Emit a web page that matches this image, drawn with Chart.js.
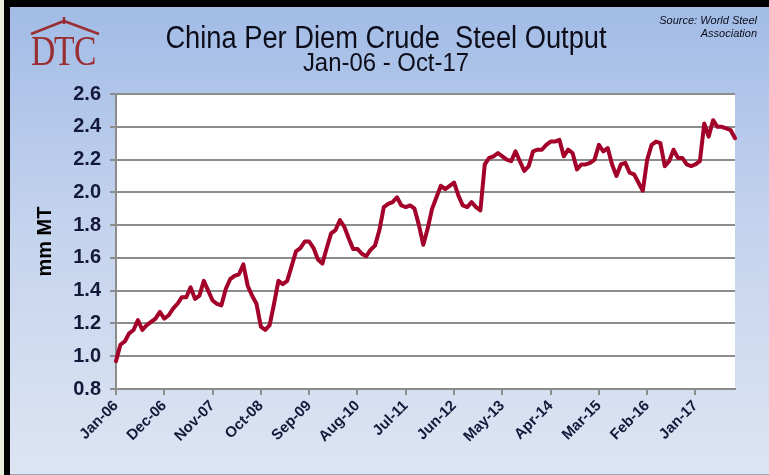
<!DOCTYPE html>
<html>
<head>
<meta charset="utf-8">
<script src="https://cdn.jsdelivr.net/npm/chart.js@4"></script>
<style>
  html, body { margin: 0; padding: 0; }
  body { width: 769px; height: 475px; background: #000; position: relative; overflow: hidden; }
  #strip { position: absolute; left: 0; top: 0; width: 4px; height: 475px; background: #e8eedb; }
  #panel { position: absolute; left: 10px; top: 7px; width: 759px; height: 467px;
           background: linear-gradient(to bottom, #a2bce6 0%, #c3d2ed 45%, #dde5f3 100%); }
  #bottomline { position: absolute; left: 10px; top: 474px; width: 759px; height: 1px; background: #9aa3b0; }
</style>
</head>
<body>
<div id="strip"></div>
<div id="panel"><canvas id="myChart" width="759" height="467"></canvas></div>
<div id="bottomline"></div>
<script>
// monthly figures, Jan-06 .. Oct-17 (mm MT per day)
const output = [
  0.97, 1.07, 1.09, 1.14, 1.16, 1.22, 1.16, 1.19, 1.21, 1.23, 1.27, 1.23,
  1.25, 1.29, 1.32, 1.36, 1.36, 1.42, 1.35, 1.37, 1.46, 1.40, 1.34, 1.32,
  1.31, 1.41, 1.47, 1.49, 1.50, 1.56, 1.43, 1.37, 1.32, 1.18, 1.16, 1.19,
  1.32, 1.46, 1.44, 1.46, 1.55, 1.64, 1.66, 1.70, 1.70, 1.66, 1.59, 1.565,
  1.66, 1.75, 1.77, 1.83, 1.79, 1.72, 1.655, 1.655, 1.625, 1.61, 1.65, 1.675,
  1.77, 1.91, 1.93, 1.94, 1.97, 1.92, 1.91, 1.92, 1.90, 1.80, 1.68, 1.78,
  1.90, 1.97, 2.04, 2.02, 2.04, 2.06, 1.98, 1.92, 1.91, 1.94, 1.91, 1.89,
  2.17, 2.21, 2.22, 2.24, 2.22, 2.20, 2.19, 2.25, 2.19, 2.13, 2.16, 2.25,
  2.26, 2.26, 2.29, 2.31, 2.31, 2.32, 2.22, 2.26, 2.24, 2.14, 2.17, 2.17,
  2.18, 2.20, 2.29, 2.25, 2.27, 2.17, 2.10, 2.17, 2.18, 2.12, 2.11, 2.06,
  2.01, 2.20, 2.29, 2.31, 2.30, 2.16, 2.19, 2.26, 2.21, 2.21, 2.17, 2.16,
  2.17, 2.19, 2.42, 2.34, 2.44, 2.40, 2.40, 2.39, 2.38, 2.33
];
const monthNames = ['Jan','Feb','Mar','Apr','May','Jun','Jul','Aug','Sep','Oct','Nov','Dec'];
const yTicks = [0.8, 1.0, 1.2, 1.4, 1.6, 1.8, 2.0, 2.2, 2.4, 2.6];
const tickLabels = ['Jan-06','Dec-06','Nov-07','Oct-08','Sep-09','Aug-10','Jul-11',
                    'Jun-12','May-13','Apr-14','Mar-15','Feb-16','Jan-17'];
const labelEvery = 11;

// category labels Jan-06 ... Oct-17
const months = [];
for (let i = 0; i < output.length; i++) {
  const yr = 6 + Math.floor(i / 12);
  months.push(monthNames[i % 12] + '-' + String(yr).padStart(2, '0'));
}

const gridGrey = '#8c8c8c';
const labelInk = '#14193a';
const sans = '"Liberation Sans", Arial, sans-serif';

// draws text squeezed horizontally (the original uses a narrow face)
function narrowText(ctx, text, x, y, squeeze) {
  ctx.save();
  ctx.translate(x, y);
  ctx.scale(squeeze, 1);
  ctx.fillText(text, 0, 0);
  ctx.restore();
}

// white plot area, headings, source note and logo
const decor = {
  id: 'decor',
  beforeDraw(chart) {
    const { ctx, chartArea: a } = chart;
    ctx.save();
    ctx.fillStyle = '#ffffff';
    ctx.fillRect(a.left, a.top, a.right - a.left, a.bottom - a.top);
    ctx.restore();
  },
  afterDraw(chart) {
    const ctx = chart.ctx;
    ctx.save();
    ctx.fillStyle = '#0d0d1a';
    ctx.textAlign = 'center';
    ctx.textBaseline = 'alphabetic';
    ctx.font = '31px ' + sans;
    narrowText(ctx, 'China Per Diem Crude  Steel Output', 376, 41, 0.88);
    ctx.font = '26px ' + sans;
    narrowText(ctx, 'Jan-06 - Oct-17', 376, 64, 0.92);

    ctx.textAlign = 'right';
    ctx.font = 'italic 11px ' + sans;
    ctx.fillText('Source: World Steel', 747, 17);
    ctx.fillText('Association', 747, 30);

    // DTC logo
    ctx.fillStyle = '#9a2f33';
    ctx.strokeStyle = '#9a2f33';
    ctx.textAlign = 'left';
    ctx.font = '42px "Liberation Serif", "DejaVu Serif", serif';
    narrowText(ctx, 'D', 21, 58, 0.8);
    narrowText(ctx, 'T', 44, 58, 0.8);
    narrowText(ctx, 'C', 64, 58, 0.8);
    ctx.lineWidth = 2.5;
    ctx.lineJoin = 'round';
    ctx.beginPath();
    ctx.moveTo(21, 27);
    ctx.lineTo(54, 14);
    ctx.lineTo(89, 27);
    ctx.stroke();
    ctx.beginPath();
    ctx.moveTo(54, 10);
    ctx.lineTo(54, 17);
    ctx.stroke();
    ctx.restore();
  }
};

const ctx = document.getElementById('myChart');

new Chart(ctx, {
  type: 'line',
  data: {
    labels: months,
    datasets: [{
      label: 'China per diem crude steel output',
      data: output,
      borderColor: '#a3002a',
      borderWidth: 4,
      pointRadius: 0,
      tension: 0,
      borderJoinStyle: 'round',
      borderCapStyle: 'round'
    }]
  },
  options: {
    responsive: false,
    animation: false,
    devicePixelRatio: 1,
    layout: { padding: { top: 87, right: 34, bottom: 0, left: 23 } },
    plugins: {
      legend: { display: false },
      tooltip: { enabled: false }
    },
    scales: {
      x: {
        offset: false,
        afterFit(scale) { scale.height = 85; },
        border: { color: gridGrey, width: 2 },
        grid: {
          drawOnChartArea: false,
          tickLength: 6,
          lineWidth: 2,
          tickColor: c => (c.index % labelEvery === 0 && c.index <= 132) ? gridGrey : 'rgba(0,0,0,0)'
        },
        ticks: {
          autoSkip: false,
          maxRotation: 45,
          minRotation: 45,
          padding: 2,
          color: labelInk,
          font: { family: sans, size: 15, weight: 'bold' },
          callback: (v, i) => i % labelEvery === 0 ? tickLabels[i / labelEvery] : ''
        }
      },
      y: {
        min: 0.8,
        max: 2.6,
        afterFit(scale) { scale.width = 83; },
        afterBuildTicks(scale) { scale.ticks = yTicks.map(v => ({ value: v })); },
        border: { color: gridGrey, width: 2 },
        grid: { color: gridGrey, lineWidth: 2, tickLength: 6 },
        title: {
          display: true,
          text: 'mm MT',
          color: '#000',
          font: { family: sans, size: 20, weight: 'bold' },
          padding: { top: 0, bottom: 0 }
        },
        ticks: {
          padding: 9,
          color: labelInk,
          font: { family: sans, size: 20, weight: 'bold' },
          callback: v => Number(v).toFixed(1)
        }
      }
    }
  },
  plugins: [decor]
});
</script>
</body>
</html>
